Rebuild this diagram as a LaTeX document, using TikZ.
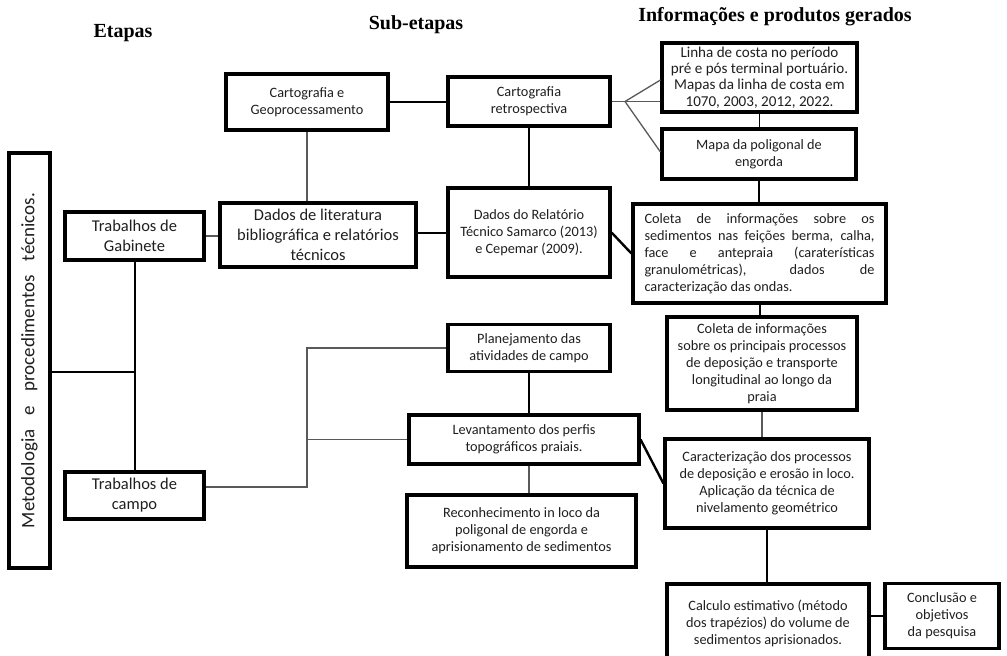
\documentclass[tikz,border=0pt]{standalone}
\usepackage{fontspec}
\setmainfont{Carlito}
\newfontfamily\titlefont{Liberation Serif}
\newcommand\smf{\fontsize{14.3}{17}\selectfont}
\newcommand\bgf{\fontsize{16.5}{20}\selectfont}
\tikzset{
  box/.style={draw, line width=3.1pt, inner sep=0pt, align=center, text=black!88},
  conn/.style={line width=1.3pt, black!65},
  connk/.style={line width=2pt, black},
  ttl/.style={font=\titlefont\bfseries\fontsize{20}{22}\selectfont, inner sep=0pt}
}
\begin{document}
\begin{tikzpicture}[x=1pt,y=-1pt]
\useasboundingbox (0,0) rectangle (1007,656);
\clip (0,0) rectangle (1007,656);
\fill[white] (0,0) rectangle (1007,656);
% titles
\node[ttl] (t1) at (123,33) {Etapas};
\node[ttl] (t2) at (416,25) {Sub-etapas};
\node[ttl] (t3) at (775,17) {Informações e produtos gerados};
% boxes
\node[box, minimum width=41pt, minimum height=415pt] (metod) at (29.5,360.5) {};
\node[rotate=90, text=black!88, inner sep=0pt, font=\fontsize{19}{22}\selectfont] (metodt) at (metod.center) {\makebox[335pt][s]{Metodologia e procedimentos técnicos.}};
\node[box, font=\bgf, minimum width=139pt, minimum height=48pt] (gab) at (134.5,236) {Trabalhos de\\Gabinete};
\node[box, font=\bgf, minimum width=139pt, minimum height=47pt] (campo) at (134.5,495.5) {Trabalhos de\\campo};
\node[box, font=\smf, minimum width=162pt, minimum height=56pt] (cartgeo) at (307,102) {Cartografia e\\Geoprocessamento};
\node[box, font=\bgf, minimum width=196pt, minimum height=64pt] (dadoslit) at (318,235) {Dados de literatura\\bibliográfica e relatórios\\técnicos};
\node[box, font=\smf, minimum width=162pt, minimum height=49pt] (retro) at (529,101.5) {Cartografia\\retrospectiva};
\node[box, font=\smf, minimum width=162pt, minimum height=89pt] (relat) at (529,232.5) {Dados do Relatório\\Técnico Samarco (2013)\\e Cepemar (2009).};
\node[box, font=\fontsize{15.1}{16.4}\selectfont, minimum width=195pt, minimum height=69pt] (linha) at (759.5,77.5) {Linha de costa no período\\pré e pós terminal portuário.\\Mapas da linha de costa em\\1070, 2003, 2012, 2022.};
\node[box, font=\smf, minimum width=194pt, minimum height=50pt] (mapa) at (759,154) {Mapa da poligonal de\\engorda};
\node[box, font=\smf, minimum width=253pt, minimum height=99pt] (colsed) at (759.5,253.5) {\makebox[230pt][s]{Coleta de informações sobre os}\\\makebox[230pt][s]{sedimentos nas feições berma, calha,}\\\makebox[230pt][s]{face e antepraia (caraterísticas}\\\makebox[230pt][s]{granulométricas), dados de}\\\makebox[230pt][l]{caracterização das ondas.}};
\node[box, font=\smf, minimum width=190pt, minimum height=93pt] (colproc) at (762,363.5) {Coleta de informações\\sobre os principais processos\\de deposição e transporte\\longitudinal ao longo da\\praia};
\node[box, font=\smf, minimum width=204pt, minimum height=89pt] (caract) at (767,483.5) {Caracterização dos processos\\de deposição e erosão in loco.\\Aplicação da técnica de\\nivelamento geométrico};
\node[box, font=\smf, minimum width=202pt, minimum height=78pt] (calc) at (768,623) {Calculo estimativo (método\\dos trapézios) do volume de\\sedimentos aprisionados.};
\node[box, font=\smf, minimum width=114pt, minimum height=65pt] (concl) at (942,616) {Conclusão e\\objetivos\\da pesquisa};
\node[box, font=\smf, minimum width=162pt, minimum height=47pt] (plan) at (529,348) {Planejamento das\\atividades de campo};
\node[box, font=\smf, minimum width=230pt, minimum height=49pt] (levant) at (524,439.5) {Levantamento dos perfis\\topográficos praiais.};
\node[box, font=\smf, minimum width=229pt, minimum height=72pt] (recon) at (521.5,531) {Reconhecimento in loco da\\poligonal de engorda e\\aprisionamento de sedimentos};
% junction coordinates
\coordinate (j1) at (135,372);
\coordinate (c1) at (307,487);
\coordinate (fan) at (625,101.5);
% connectors
\draw[connk] (metod.east |- j1) -- (j1);
\draw[connk] (gab.south) -- (gab.south |- campo.north);
\draw[conn] (gab.east) -- (gab.east -| dadoslit.west);
\draw[conn] (cartgeo.south) -- (cartgeo.south |- dadoslit.north);
\draw[connk] (cartgeo.east) -- (cartgeo.east -| retro.west);
\draw[connk] (relat.west -| dadoslit.east) -- (relat.west);
\draw[connk] (retro.south) -- (retro.south |- relat.north);
\draw[conn] (retro.east |- fan) -- (fan);
\draw[conn] (fan) -- ([yshift=-2.5pt]linha.west);
\draw[conn] (fan) -- (linha.west |- fan);
\draw[conn] (fan) -- ([yshift=2pt]mapa.west);
\draw[conn, black] (linha.south) -- (linha.south |- mapa.north);
\draw[conn, black] (mapa.south) -- (mapa.south |- colsed.north);
\draw[line width=2.4pt] (relat.east) -- (colsed.west);
\draw[connk] (colsed.south) -- (colsed.south |- colproc.north);
\draw[conn] (colproc.south) -- (colproc.south |- caract.north);
\draw[line width=2.4pt] (caract.south) -- (caract.south |- calc.north);
\draw[connk] (concl.west -| calc.east) -- (concl.west);
\draw[conn] (campo.east |- c1) -- (c1) -- (c1 |- plan.west) -- (plan.west);
\draw[conn] (c1 |- levant.west) -- (levant.west);
\draw[connk] (plan.south) -- (plan.south |- levant.north);
\draw[conn] (plan.south |- levant.south) -- (plan.south |- recon.north);
\draw[line width=2.4pt] (levant.east) -- (caract.west);
\end{tikzpicture}
\end{document}
